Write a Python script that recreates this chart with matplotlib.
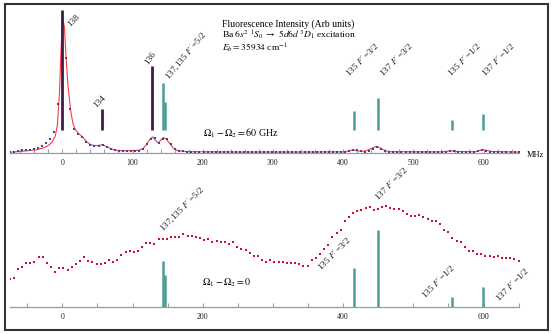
import numpy as np
import matplotlib
matplotlib.use("Agg")
import matplotlib.pyplot as plt
from matplotlib.patches import Rectangle
from matplotlib.ticker import MultipleLocator

plt.rcParams['font.family'] = 'serif'
plt.rcParams['font.serif'] = ['Liberation Serif', 'DejaVu Serif']
plt.rcParams['mathtext.fontset'] = 'stix'

# ---- data: 60 GHz detuning (top) ----
top_freq = np.linspace(-75, 650, 127)
top_vals = [0.7, 1.3, 2.0, 2.7, 2.8, 3.3, 4.0, 5.3, 7.3, 9.7, 14, 21.5,
            48.7, 121, 95, 43.7, 24.3, 19, 16.3, 11.5, 8.5, 7.3, 7.3, 8.3,
            6.3, 4, 3, 2.3, 2.3, 2.3, 2.3, 2.3, 2.3, 4, 9, 14.3,
            15.3, 9.7, 14.3, 13.7, 9, 3.7, 2.3, 1.8, 1.5, 1.3, 1.5, 1.3,
            1.2, 1.3, 1.0, 1.2, 1.0, 1.1, 1.0, 1.2, 0.9, 1.0, 1.1, 1.0,
            1.0, 1.2, 0.9, 1.0, 1.1, 1.0, 0.9, 1.1, 1.0, 1.0, 1.2, 0.9,
            1.0, 1.1, 1.0, 0.9, 1.0, 1.1, 1.0, 1.0, 0.9, 1.1, 1.0, 1.2,
            1.8, 3.0, 2.6, 1.6, 1.5, 2.2, 3.8, 5.8, 4.2, 2.2, 1.3, 1.1,
            1.0, 1.1, 0.9, 1.0, 1.1, 1.0, 0.9, 1.0, 1.1, 1.0, 1.0, 1.2,
            1.5, 1.9, 1.6, 1.1, 1.0, 1.1, 1.0, 1.3, 2.2, 2.9, 2.5, 1.5,
            1.1, 1.0, 0.9, 1.0, 1.1, 1.0, 0.9]

fit_freq = [-75, -60, -45, -35, -25, -20, -15, -10, -7, -4, -2, 0, 1.5, 3, 5, 8,
            12, 15, 18, 23, 29, 35, 40, 45, 50, 57, 63, 70, 78, 90, 105, 110,
            115, 120, 125, 129, 133, 137, 141, 144, 148, 153, 158, 163, 170, 185,
            250, 350, 400, 408, 414, 420, 426, 432, 440, 445, 449, 454, 460, 468,
            540, 549, 555, 561, 588, 594, 599, 605, 612, 650]
fit_vals = [0.8, 1.5, 2.6, 3.5, 5.5, 7.5, 10.5, 17, 28, 60, 100, 126, 131, 126, 100, 68,
            42, 30, 24, 19.5, 16, 11, 8.5, 7.5, 7.4, 8.3, 6.5, 4, 2.6, 2.2, 2.5, 3,
            4.5, 8.5, 14, 16, 12.5, 10, 13.5, 15.5, 14, 9.5, 5, 2.8, 1.8, 1.3,
            1.0, 1.0, 1.2, 2.0, 3.2, 2.2, 1.6, 2.2, 4.5, 6, 6.5, 4.5, 2.3, 1.3,
            1.1, 1.8, 2.2, 1.6, 1.2, 2.5, 3.2, 2.6, 1.5, 0.9]

even_pos = [0, 57, 128]
even_top = [120, 21, 64]
odd_pos = [143, 146, 415, 449.5, 555, 599.5]
odd_top = [47, 28, 19, 32, 10, 16]
odd_bottom = [46, 32, 39, 77, 10, 20]

# ---- data: zero detuning (bottom) ----
bot_freq = np.linspace(-75, 650, 124)
bot_vals = [27.7, 29.3, 37.7, 40, 44, 44.3, 44.7, 50.3, 50.3, 44, 39.7, 35.3,
            39.3, 39.3, 37.3, 39.7, 43.3, 45.7, 49.7, 46.3, 45, 43.3, 42.7, 43.7,
            46.7, 45.3, 46.7, 51.7, 54.7, 56, 54.7, 56, 59.7, 63.7,
            63.7, 62.7, 67.7, 68, 67.7, 70.3, 69.7, 70.3, 73.3, 70.7, 70.7, 69.7,
            68.7, 67, 68, 65.3, 66.3, 64.7, 65, 63.3, 64.7, 59.7, 57.7, 56.7,
            54.3, 50.7, 51, 46.7, 45.3, 46.7, 45, 45,
            44.7, 44.3, 43.7, 44.3, 42.7, 41, 41, 47, 49.3, 52.7,
            57.7, 62, 69.7, 73.7, 77, 86, 90.3, 93.7, 96.3, 97,
            99.3, 100.3, 97, 98, 99.7, 101, 99.3, 98, 98, 96.3,
            92.7, 91.3, 91.3, 92, 90.3, 88, 86.3, 86, 83, 77,
            74.7, 69.3, 66, 65.3, 60.3, 56.3, 56.3, 52.7, 52.7, 51.3,
            51, 49.7, 51, 48.7, 48.7, 49.3, 48, 46.3]

purple = '#3e1b48'
teal = '#4f9c97'
axis_gray = '#9a9a9a'

W, H = 553, 334
fig = plt.figure(figsize=(W / 100, H / 100), dpi=100)
fig.patches.append(Rectangle((5 / W, 4 / H), 543 / W, 326 / H, transform=fig.transFigure,
                             fill=False, ec='#333333', lw=1.5))

x0 = 9.65 / W
xw = 508.95 / W
ax1 = fig.add_axes([x0, 1 - 153 / H, xw, 145 / H])
ax2 = fig.add_axes([x0, 1 - 307 / H, xw, 142 / H])


def style_axis(ax, major, minor, top):
    ax.set_xlim(-75, 650)
    ax.set_ylim(0, top)
    for s in ['left', 'right', 'top']:
        ax.spines[s].set_visible(False)
    ax.spines['bottom'].set_color(axis_gray)
    ax.spines['bottom'].set_linewidth(0.9)
    ax.set_yticks([])
    ax.xaxis.set_major_locator(MultipleLocator(major))
    ax.xaxis.set_minor_locator(MultipleLocator(minor))
    ax.tick_params(axis='x', which='both', direction='in', length=3, color=axis_gray,
                   width=0.7, labelsize=5.7, pad=4, labelcolor='#222222')
    ax.patch.set_alpha(0)


style_axis(ax1, 100, 20, 145)
style_axis(ax2, 200, 50, 142)
ax1.set_xticks(range(0, 601, 100))
ax2.set_xticks(range(0, 601, 200))

# top panel
ax1.plot(fit_freq, fit_vals, color='#ff3b3b', lw=0.8, zorder=2)
ax1.plot(top_freq, top_vals, 's', color='#4a3e9a', ms=1.6, mew=0, zorder=3)
ax1.vlines(even_pos, 23, [23 + v for v in even_top], color=purple, lw=2.0, zorder=4)
ax1.vlines(odd_pos, 23, [23 + v for v in odd_top], color=teal, lw=1.8, zorder=4)

lab_kw = dict(ha='left', va='baseline', rotation_mode='anchor', fontsize=6.7, color='#222222')
ax1.text(11, 126, '138', rotation=45, **lab_kw)
ax1.text(49, 45, '134', rotation=45, **lab_kw)
ax1.text(122, 88, '136', rotation=55, **lab_kw)
ax1.text(152, 73, "137,135 $F'$=5/2", rotation=50, **lab_kw)
ax1.text(409, 75, "135 $F'$=3/2", rotation=45, **lab_kw)
ax1.text(457, 75, "137 $F'$=3/2", rotation=45, **lab_kw)
ax1.text(554, 75, "135 $F'$=1/2", rotation=45, **lab_kw)
ax1.text(603, 75, "137 $F'$=1/2", rotation=45, **lab_kw)

ax1.text(227, 128.5, 'Fluorescence Intensity (Arb units)', fontsize=6.9, va='center')
ax1.text(227, 117.5, r'Ba $6s^2\ ^1S_0\ \rightarrow\ 5d6d\ ^3D_1$ excitation', fontsize=6.8, va='center')
ax1.text(227, 104.5, r'$E_b = 35934$ cm$^{-1}$', fontsize=6.8, va='center')
ax1.text(200, 20, r'$\Omega_1 - \Omega_2 = 60$ GHz', fontsize=7.2, va='center')
ax1.text(662, -2, 'MHz', fontsize=6, va='center', ha='left')

# bottom panel
ax2.plot(bot_freq, bot_vals, 's', color='#c8102e', ms=2.0, mew=0, zorder=3)
ax2.vlines(odd_pos, 0, odd_bottom, color=teal, lw=1.8, zorder=4)
ax2.text(143, 75, "137,135 $F'$=5/2", rotation=45, **lab_kw)
ax2.text(369, 35, "135 $F'$=3/2", rotation=45, **lab_kw)
ax2.text(451, 105, "137 $F'$=3/2", rotation=45, **lab_kw)
ax2.text(517, 7, "135 $F'$=1/2", rotation=45, **lab_kw)
ax2.text(623, 4, "137 $F'$=1/2", rotation=45, **lab_kw)
ax2.text(199, 24, r'$\Omega_1 - \Omega_2 = 0$', fontsize=7.2, va='center')

fig.savefig('out.png', dpi=100)
